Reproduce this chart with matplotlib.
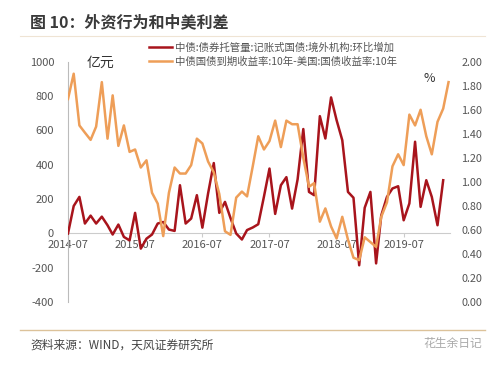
import numpy as np
import pandas as pd
import matplotlib
matplotlib.use("Agg")
import matplotlib.pyplot as plt
from matplotlib.ticker import FormatStrFormatter
import matplotlib.dates as mdates

plt.rcParams["font.family"] = ["Noto Sans CJK SC", "DejaVu Sans"]
plt.rcParams["axes.unicode_minus"] = False

# monthly, 2014-07 onward
holdings_chg = [0, 160, 213, 58, 104, 58, 98, 48, -6, 52, -20, -40,
                120, -88, -30, -6, 58, 67, 23, 15, 281, 58, 87, 223,
                34, 233, 410, 120, 184, 90, 0, -35, 20, 35, 54, 215,
                378, 114, 281, 328, 145, 315, 608, 242, 223, 683, 553, 792,
                660, 543, 242, 208, -185, 150, 242, -174, 105, 213, 262, 275,
                77, 175, 534, 155, 310, 213, 48, 310]
spread = [1.69, 1.90, 1.47, 1.41, 1.35, 1.46, 1.83, 1.36, 1.72, 1.30, 1.47, 1.25,
          1.27, 1.12, 1.18, 0.91, 0.82, 0.55, 0.91, 1.12, 1.07, 1.07, 1.14, 1.36,
          1.32, 1.17, 1.08, 0.90, 0.59, 0.56, 0.87, 0.92, 0.88, 1.13, 1.38, 1.27,
          1.34, 1.51, 1.29, 1.51, 1.48, 1.48, 1.20, 0.96, 0.99, 0.67, 0.78, 0.63,
          0.53, 0.71, 0.52, 0.37, 0.35, 0.54, 0.50, 0.46, 0.71, 0.83, 1.13, 1.23,
          1.14, 1.56, 1.47, 1.60, 1.38, 1.23, 1.50, 1.61, 1.83]
red_label = "中债:债券托管量:记账式国债:境外机构:环比增加"
orange_label = "中债国债到期收益率:10年-美国:国债收益率:10年"

dates = pd.date_range("2014-07-01", periods=len(spread), freq="MS")
red_c = "#a8141c"
orange_c = "#ee9e58"
grey = "#555555"

fig = plt.figure(figsize=(5.0, 3.65), dpi=100)
ax = fig.add_axes([0.136, 0.172, 0.764, 0.659])
ax2 = ax.twinx()

l1, = ax.plot(dates[:len(holdings_chg)], holdings_chg, color=red_c, lw=1.8, zorder=3)
l2, = ax2.plot(dates, spread, color=orange_c, lw=1.8, zorder=2)

ax.set_ylim(-400, 1000)
ax.set_yticks(range(-400, 1001, 200))
ax2.set_ylim(0, 2)
ax2.set_yticks(np.arange(0, 2.01, 0.2))
ax2.yaxis.set_major_formatter(FormatStrFormatter("%.2f"))
ax.set_xlim(dates[0], dates[-1] + pd.Timedelta(days=8))
ax.set_xticks(dates[::12])
ax.xaxis.set_major_formatter(mdates.DateFormatter("%Y-%m"))

for a in (ax, ax2):
    for s in a.spines.values():
        s.set_visible(False)
ax.spines["left"].set_visible(True)
ax.spines["left"].set_color("#bbbbbb")
ax.spines["bottom"].set_visible(True)
ax.spines["bottom"].set_position(("data", 0))
ax.spines["bottom"].set_color("#cccccc")
ax.tick_params(axis="y", length=0, pad=10, labelsize=8, labelcolor=grey)
ax.tick_params(axis="x", length=3, color="#cccccc", pad=2, labelsize=8, labelcolor=grey)
ax2.tick_params(axis="y", length=0, pad=8, labelsize=7.8, labelcolor=grey)

ax.text(0.05, 0.995, "亿元", transform=ax.transAxes, fontsize=10, color="#333333",
        va="center", ha="left")
ax2.text(0.945, 0.932, "%", transform=ax2.transAxes, fontsize=9, color="#333333",
         va="center", ha="center")

fig.legend([l1, l2], [red_label, orange_label], loc="upper left",
           bbox_to_anchor=(0.29, 0.895), frameon=False, fontsize=7.5,
           handlelength=2.2, handletextpad=0.3, labelspacing=0.35,
           labelcolor=grey, borderaxespad=0)

fig.text(0.06, 0.94, "图 10：外资行为和中美利差", fontsize=11.5, fontweight="bold",
         color="#3a3a3a", va="center", ha="left")
fig.add_artist(plt.Line2D([0.04, 0.97], [0.902, 0.902], color="#efe4d4", lw=0.8))
fig.add_artist(plt.Line2D([0.04, 0.97], [0.096, 0.096], color="#dcc29a", lw=1.0))
fig.text(0.06, 0.055, "资料来源：WIND，天风证券研究所", fontsize=8.5, color="#444444",
         va="center", ha="left")
fig.text(0.965, 0.058, "花生余日记", fontsize=8.5, color="#aaaaaa", va="center", ha="right")

fig.savefig("out.png", dpi=100)
